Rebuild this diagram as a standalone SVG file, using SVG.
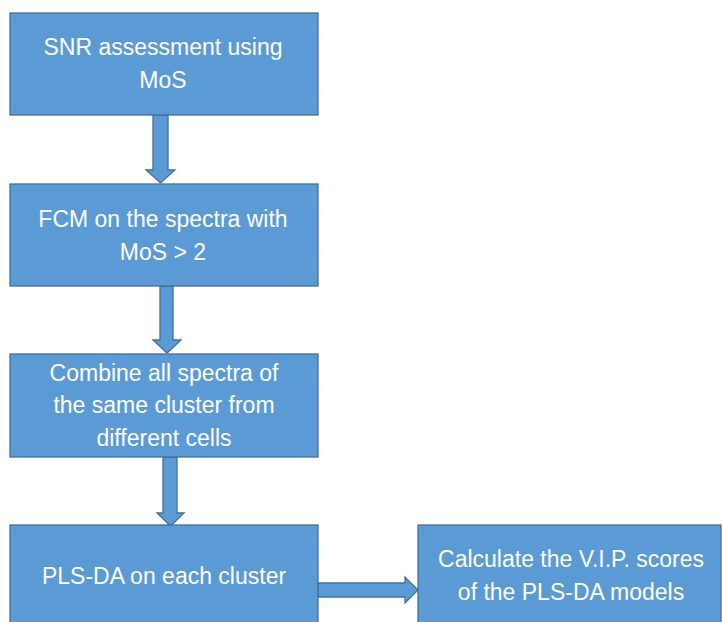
<svg xmlns="http://www.w3.org/2000/svg" width="722" height="622" viewBox="0 0 722 622">
  <style>
    .box { fill: #5B9BD5; stroke: #41719C; stroke-width: 1.3; }
    .arr { fill: #5B9BD5; stroke: #41719C; stroke-width: 1.3; stroke-linejoin: miter; }
    .lbl { fill: #FFFFFF; font-family: "Liberation Sans", Arial, sans-serif; font-size: 23px; text-anchor: middle; }
  </style>
  <rect width="722" height="622" fill="#FFFFFF"/>
  <g id="connectors">
    <polygon class="arr" points="153,115 168,115 168,170 175,170 160.5,183 146,170 153,170"/>
    <polygon class="arr" points="160,286 173,286 173,340 181,340 167,353 153,340 160,340"/>
    <polygon class="arr" points="163,457 177,457 177,513 184,513 170.5,526 157,513 163,513"/>
    <polygon class="arr" points="318,583 405,583 405,577 418,590 405,603 405,597 318,597"/>
  </g>
  <g id="node-snr">
    <rect class="box" x="10" y="13" width="308" height="102"/>
    <text class="lbl" x="163" y="55">SNR assessment using</text>
    <text class="lbl" x="163" y="88">MoS</text>
  </g>
  <g id="node-fcm">
    <rect class="box" x="10" y="184" width="308" height="102"/>
    <text class="lbl" x="163" y="227">FCM on the spectra with</text>
    <text class="lbl" x="163" y="260">MoS &gt; 2</text>
  </g>
  <g id="node-combine">
    <rect class="box" x="10" y="354" width="308" height="103"/>
    <text class="lbl" x="164" y="381">Combine all spectra of</text>
    <text class="lbl" x="164" y="413">the same cluster from</text>
    <text class="lbl" x="164" y="446">different cells</text>
  </g>
  <g id="node-plsda">
    <rect class="box" x="10" y="525" width="308" height="105"/>
    <text class="lbl" x="164" y="584">PLS-DA on each cluster</text>
  </g>
  <g id="node-vip">
    <rect class="box" x="418" y="525" width="303" height="105"/>
    <text class="lbl" x="571" y="567">Calculate the V.I.P. scores</text>
    <text class="lbl" x="571" y="600">of the PLS-DA models</text>
  </g>
</svg>
